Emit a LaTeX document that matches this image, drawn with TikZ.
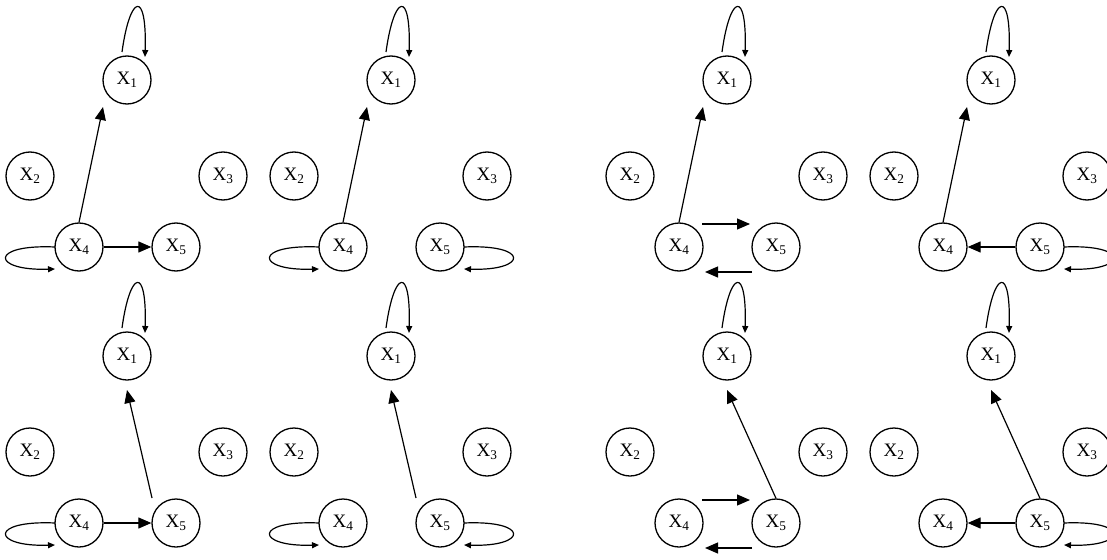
\documentclass[tikz,border=0pt]{standalone}
\usepackage{fontspec}
\setmainfont{Liberation Serif}
\usetikzlibrary{arrows.meta,calc}
\tikzset{
  st/.style={circle,draw,line width=1.3pt,minimum size=48pt,inner sep=0pt,font=\fontsize{19}{19}\selectfont},
  big/.style={line width=1.2pt,-{Triangle[length=13pt,width=11pt]}},
  lp/.style={line width=1.2pt,-{Triangle[length=7pt,width=6pt]}}
}
\newcommand\mypanel[3]{%
  \begin{scope}[shift={(#2,#3)}]
    \node[st] (#11) at (127,80) {X\textsubscript{1}};
    \node[st] (#12) at (30,176) {X\textsubscript{2}};
    \node[st] (#13) at (223,176) {X\textsubscript{3}};
    \node[st] (#14) at (79,247) {X\textsubscript{4}};
    \node[st] (#15) at (176,247) {X\textsubscript{5}};
  \end{scope}
  \draw[lp] ($(#11)+(-5,-28)$) .. controls ($(#11)+(3,-86)$) and ($(#11)+(20,-91)$) .. ($(#11)+(18,-23)$);
}
\newcommand\loopleft[1]{\draw[lp] ($(#1)+(-24,0)$) .. controls ($(#1)+(-90,-3)$) and ($(#1)+(-88,24)$) .. ($(#1)+(-24,22)$);}
\newcommand\loopright[1]{\draw[lp] ($(#1)+(24,0)$) .. controls ($(#1)+(90,-3)$) and ($(#1)+(88,24)$) .. ($(#1)+(24,22)$);}
\newcommand\upfour[1]{\draw[big] (#14.north) -- ($(#11)+(-24,27)$);}
\newcommand\upfiveoff[1]{\draw[big] ($(#15)+(-24,-25)$) -- ($(#11)+(0,34)$);}
\newcommand\upfive[1]{\draw[big] (#15.north) -- ($(#11)+(0,34)$);}
\newcommand\dbl[1]{%
  \draw[big] ($(#14)+(23,-23)$) -- ($(#15)+(-26,-23)$);
  \draw[big] ($(#15)+(-24,25)$) -- ($(#14)+(26,25)$);}
\begin{document}
\begin{tikzpicture}[x=1pt,y=-1pt]
\useasboundingbox (0,0) rectangle (1107,559);
% top row
\mypanel{A}{0}{0}
\upfour{A}
\draw[big] (A4.east) -- (A5.west);
\loopleft{A4}
\mypanel{B}{264}{0}
\upfour{B}
\loopleft{B4}
\loopright{B5}
\mypanel{C}{600}{0}
\upfour{C}
\dbl{C}
\mypanel{D}{864}{0}
\upfour{D}
\draw[big] (D5.west) -- (D4.east);
\loopright{D5}
% bottom row
\mypanel{E}{0}{276}
\upfiveoff{E}
\draw[big] (E4.east) -- (E5.west);
\loopleft{E4}
\mypanel{F}{264}{276}
\upfiveoff{F}
\loopleft{F4}
\loopright{F5}
\mypanel{G}{600}{276}
\upfive{G}
\dbl{G}
\mypanel{H}{864}{276}
\upfive{H}
\draw[big] (H5.west) -- (H4.east);
\loopright{H5}
\end{tikzpicture}
\end{document}
